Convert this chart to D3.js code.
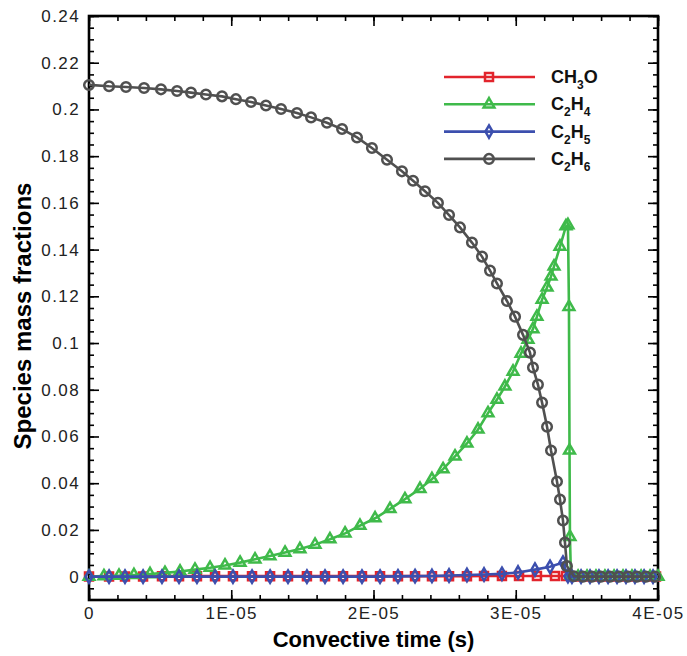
<!DOCTYPE html>
<html>
<head>
<meta charset="utf-8">
<script src="https://cdn.jsdelivr.net/npm/d3@7"></script>
<style>
  body { margin: 0; background: #fff; }
  svg { display: block; font-family: 'Liberation Sans', Arial, sans-serif; }
</style>
</head>
<body>
<svg id="chart" width="687" height="656"></svg>
<script>
// convective time is stored in units of 1E-05 s
var timeCH3O = [0, 0.141, 0.253, 0.380, 0.513, 0.633, 0.759, 0.886, 1.012, 1.146, 1.273, 1.399, 1.532, 1.659, 1.786, 1.919, 2.046, 2.172, 2.292, 2.411, 2.531, 2.657, 2.777, 2.903, 3.023, 3.149, 3.276, 3.353, 3.417, 3.480, 3.543, 3.606, 3.670, 3.733, 3.796, 3.859, 3.923, 3.986];
var valCH3O = [0.0001, 0.0001, 0.0001, 0.0001, 0.0002, 0.0002, 0.0002, 0.0002, 0.0002, 0.0002, 0.0002, 0.0002, 0.0002, 0.0002, 0.0002, 0.0002, 0.0002, 0.0002, 0.0002, 0.0002, 0.0002, 0.0002, 0.0003, 0.0003, 0.0003, 0.0003, 0.0003, 0.0003, 0.0001, 0.0001, 0.0001, 0.0001, 0.0001, 0.0001, 0.0001, 0.0001, 0.0001, 0.0001];

var timeC2H4 = [0, 0.105, 0.211, 0.316, 0.429, 0.534, 0.640, 0.745, 0.851, 0.956, 1.062, 1.167, 1.272, 1.378, 1.483, 1.589, 1.694, 1.800, 1.905, 2.011, 2.116, 2.221, 2.327, 2.411, 2.489, 2.573, 2.657, 2.735, 2.805, 2.868, 2.924, 2.981, 3.037, 3.086, 3.121, 3.149, 3.185, 3.220, 3.248, 3.269, 3.311, 3.353, 3.367, 3.374, 3.378, 3.381, 3.388, 3.438, 3.501, 3.564, 3.627, 3.691, 3.754, 3.817, 3.881, 3.944, 4.000];
var valC2H4 = [0, 0.0002, 0.0004, 0.0007, 0.0011, 0.0016, 0.0022, 0.0030, 0.0038, 0.0048, 0.0060, 0.0074, 0.0088, 0.0103, 0.0118, 0.0137, 0.0160, 0.0185, 0.0218, 0.0250, 0.0290, 0.0332, 0.0376, 0.0418, 0.0460, 0.0515, 0.0570, 0.0630, 0.0700, 0.0758, 0.0814, 0.0878, 0.0955, 0.1015, 0.1060, 0.1113, 0.1186, 0.1238, 0.1285, 0.1328, 0.1413, 0.1500, 0.1505, 0.1155, 0.0540, 0.0170, 0.0005, 0, 0, 0, 0, 0, 0, 0, 0, 0, 0];

var timeC2H5 = [0, 0.141, 0.253, 0.380, 0.513, 0.633, 0.759, 0.886, 1.012, 1.146, 1.273, 1.399, 1.532, 1.659, 1.786, 1.919, 2.046, 2.172, 2.292, 2.411, 2.531, 2.657, 2.777, 2.903, 3.016, 3.135, 3.241, 3.332, 3.367, 3.395, 3.459, 3.522, 3.585, 3.649, 3.712, 3.775, 3.838, 3.902, 3.965];
var valC2H5 = [0, 0, 0, 0, 0, 0, 0, 0, 0, 0, 0, 0, 0, 0, 0, 0, 0, 0.0001, 0.0002, 0.0003, 0.0005, 0.0007, 0.0009, 0.0012, 0.0018, 0.0030, 0.0042, 0.0060, 0.0002, 0, 0, 0, 0, 0, 0, 0, 0, 0, 0];

var timeC2H6 = [0, 0.141, 0.260, 0.387, 0.506, 0.619, 0.717, 0.822, 0.935, 1.033, 1.139, 1.244, 1.350, 1.462, 1.561, 1.673, 1.779, 1.884, 1.989, 2.095, 2.200, 2.278, 2.362, 2.453, 2.531, 2.608, 2.692, 2.763, 2.819, 2.868, 2.938, 2.995, 3.051, 3.100, 3.121, 3.156, 3.185, 3.220, 3.248, 3.290, 3.311, 3.332, 3.346, 3.360, 3.409, 3.473, 3.536, 3.599, 3.663, 3.726, 3.789, 3.852, 3.916, 3.979];
var valC2H6 = [0.2105, 0.2099, 0.2096, 0.2092, 0.2086, 0.2079, 0.2072, 0.2064, 0.2056, 0.2044, 0.2032, 0.2017, 0.2002, 0.1985, 0.1966, 0.1943, 0.1916, 0.1880, 0.1835, 0.1785, 0.1735, 0.1695, 0.1650, 0.1600, 0.1548, 0.1495, 0.1430, 0.1370, 0.1310, 0.1255, 0.1180, 0.1113, 0.1035, 0.0959, 0.0895, 0.0822, 0.0745, 0.0642, 0.0540, 0.0407, 0.0330, 0.0240, 0.0146, 0.0045, 0.0002, 0, 0, 0, 0, 0, 0, 0, 0, 0];

var speciesNames = ['CH3O', 'C2H4', 'C2H5', 'C2H6'];
var xTicks = [0, 1, 2, 3, 4];
var xTickLabels = ['0', '1E-05', '2E-05', '3E-05', '4E-05'];
var yTicks = [0, 0.02, 0.04, 0.06, 0.08, 0.1, 0.12, 0.14, 0.16, 0.18, 0.2, 0.22, 0.24];
var yTickLabels = ['0', '0.02', '0.04', '0.06', '0.08', '0.1', '0.12', '0.14', '0.16', '0.18', '0.2', '0.22', '0.24'];

var series = [
  { name: speciesNames[0], t: timeCH3O, v: valCH3O, color: '#e2242c', symbol: d3.symbolSquare, size: 64 },
  { name: speciesNames[1], t: timeC2H4, v: valC2H4, color: '#3fba4a', symbol: d3.symbolTriangle, size: 50 },
  { name: speciesNames[2], t: timeC2H5, v: valC2H5, color: '#3c4fae', symbol: d3.symbolDiamond, size: 44 },
  { name: speciesNames[3], t: timeC2H6, v: valC2H6, color: '#505050', symbol: d3.symbolCircle, size: 72 }
];

var plotLeft = 89, plotRight = 658, plotTop = 16, plotBottom = 600;

var svg = d3.select('#chart');

var xScale = d3.scaleLinear().domain([0, 4]).range([plotLeft, plotRight]);
var yScale = d3.scaleLinear().domain([-0.01, 0.24]).range([plotBottom, plotTop]);

var xMinor = d3.range(0, 4.001, 0.2);
var yMinor = d3.range(-0.005, 0.2401, 0.005);

function styleAxis(g) {
  g.select('.domain').remove();
  g.selectAll('line').attr('stroke', '#000').attr('stroke-width', 1.6);
  g.selectAll('text').filter(function() { return this.textContent === ''; }).remove();
  g.selectAll('text')
    .attr('fill', '#222')
    .style('font-size', '17px')
    .style('letter-spacing', '1.4px');
}

// minor ticks on all four sides
svg.append('g').attr('transform', `translate(0,${plotBottom})`)
  .call(d3.axisBottom(xScale).tickValues(xMinor).tickSize(-5).tickFormat(''))
  .call(styleAxis);
svg.append('g').attr('transform', `translate(0,${plotTop})`)
  .call(d3.axisTop(xScale).tickValues(xMinor).tickSize(-5).tickFormat(''))
  .call(styleAxis);
svg.append('g').attr('transform', `translate(${plotLeft},0)`)
  .call(d3.axisLeft(yScale).tickValues(yMinor).tickSize(-5).tickFormat(''))
  .call(styleAxis);
svg.append('g').attr('transform', `translate(${plotRight},0)`)
  .call(d3.axisRight(yScale).tickValues(yMinor).tickSize(-5).tickFormat(''))
  .call(styleAxis);

// major ticks
svg.append('g').attr('transform', `translate(0,${plotBottom})`)
  .call(d3.axisBottom(xScale).tickValues(xTicks).tickSizeInner(-10).tickSizeOuter(0).tickPadding(7)
    .tickFormat((d, i) => xTickLabels[i]))
  .call(styleAxis);
svg.append('g').attr('transform', `translate(0,${plotTop})`)
  .call(d3.axisTop(xScale).tickValues(xTicks).tickSizeInner(-10).tickSizeOuter(0).tickFormat(''))
  .call(styleAxis);
svg.append('g').attr('transform', `translate(${plotLeft},0)`)
  .call(d3.axisLeft(yScale).tickValues(yTicks).tickSizeInner(-10).tickSizeOuter(0).tickPadding(9)
    .tickFormat((d, i) => yTickLabels[i]))
  .call(styleAxis);
svg.append('g').attr('transform', `translate(${plotRight},0)`)
  .call(d3.axisRight(yScale).tickValues(yTicks).tickSizeInner(-10).tickSizeOuter(0).tickFormat(''))
  .call(styleAxis);

// plot frame
svg.append('rect')
  .attr('x', plotLeft).attr('y', plotTop)
  .attr('width', plotRight - plotLeft).attr('height', plotBottom - plotTop)
  .attr('fill', 'none').attr('stroke', '#000').attr('stroke-width', 2.6);

var line = d3.line().x(d => xScale(d[0])).y(d => yScale(d[1]));

series.forEach(function(s) {
  var pts = s.t.map((t, i) => [t, s.v[i]]);
  var g = svg.append('g');
  g.append('path')
    .attr('d', line(pts))
    .attr('fill', 'none')
    .attr('stroke', s.color)
    .attr('stroke-width', 2.6);
  g.selectAll('.mk').data(pts).enter()
    .append('path')
    .attr('class', 'mk')
    .attr('d', d3.symbol().type(s.symbol).size(s.size))
    .attr('transform', d => `translate(${xScale(d[0])},${yScale(d[1])})`)
    .attr('fill', 'none')
    .attr('stroke', s.color)
    .attr('stroke-width', 2.5);
});

// legend
var legend = svg.append('g');
series.forEach(function(s, i) {
  var y = 77 + i * 27.3;
  legend.append('line')
    .attr('x1', 444).attr('x2', 535).attr('y1', y).attr('y2', y)
    .attr('stroke', s.color).attr('stroke-width', 2.6);
  legend.append('path')
    .attr('d', d3.symbol().type(s.symbol).size(s.size))
    .attr('transform', `translate(489,${y})`)
    .attr('fill', 'none').attr('stroke', s.color).attr('stroke-width', 2.5);
  var txt = legend.append('text')
    .attr('x', 551).attr('y', y + 6)
    .attr('fill', '#111')
    .style('font-size', '18px')
    .style('font-weight', 'bold');
  // digits become subscripts
  var shift = 0;
  s.name.match(/\d+|\D+/g).forEach(function(part) {
    if (/\d/.test(part)) {
      txt.append('tspan').attr('dy', 6 - shift).style('font-size', '12px').text(part);
      shift = 6;
    } else {
      txt.append('tspan').attr('dy', -shift).text(part);
      shift = 0;
    }
  });
});

// axis titles
svg.append('text')
  .attr('x', (plotLeft + plotRight) / 2).attr('y', 647)
  .attr('text-anchor', 'middle')
  .style('font-size', '22px').style('font-weight', 'bold')
  .text('Convective time (s)');

svg.append('text')
  .attr('transform', `translate(31,${(plotTop + plotBottom) / 2 + 8}) rotate(-90)`)
  .attr('text-anchor', 'middle')
  .style('font-size', '24px').style('font-weight', 'bold')
  .text('Species mass fractions');
</script>
</body>
</html>
